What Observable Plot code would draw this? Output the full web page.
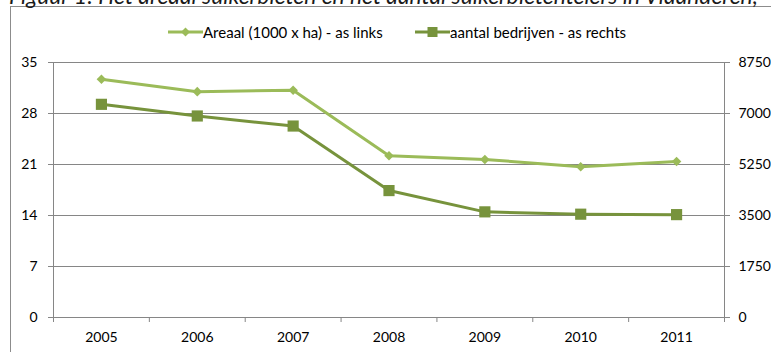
<!DOCTYPE html>
<html>
<head>
<meta charset="utf-8">
<script src="https://cdn.jsdelivr.net/npm/d3@7"></script>
<script src="https://cdn.jsdelivr.net/npm/@observablehq/plot@0.6"></script>
<style>
  html, body { margin: 0; padding: 0; background: #fff; overflow: hidden; }
  #wrap { position: relative; width: 771px; height: 352px; overflow: hidden; font-family: Lato, "Open Sans", sans-serif; }
  #title { position: absolute; left: 9px; top: -16px; font-style: italic; font-size: 22.8px; line-height: 22.8px; white-space: nowrap; color: #1a1a1a; }
  #frame { position: absolute; left: 10px; top: 6px; width: 820px; height: 420px; border: 1px solid #8c8c8c; box-sizing: border-box; pointer-events: none; }
  #chart { position: absolute; left: 0; top: 0; }
  .item { position: absolute; top: 23px; height: 18px; display: flex; align-items: center; font-size: 15px; line-height: 18px; color: #000; white-space: nowrap; }
  .item svg { display: block; }
</style>
</head>
<body>
<div id="wrap">
  <div id="chart"></div>
  <div id="frame"></div>
  <div id="title"></div>
  <div id="legend"></div>
</div>
<script>
// Suikerbieten in Vlaanderen: areaal (linker as) en aantal bedrijven (rechter as)
const years = ["2005", "2006", "2007", "2008", "2009", "2010", "2011"];
const areaal = [32.7, 31.0, 31.2, 22.2, 21.7, 20.7, 21.4];           // 1000 x ha
const bedrijven = [7315, 6915, 6570, 4355, 3625, 3545, 3530];        // aantal
const leftTicks = [0, 7, 14, 21, 28, 35];
const rightTicks = [0, 1750, 3500, 5250, 7000, 8750];
const seriesNames = ["Areaal (1000 x ha) - as links", "aantal bedrijven - as rechts"];
const titleText = "Figuur 1: Het areaal suikerbieten en het aantal suikerbietentelers in Vlaanderen,";

const colors = ["#9BBB59", "#77933C"];
const grey = "#868686";

// the right axis is a rescaled copy of the left one
const ratio = rightTicks[rightTicks.length - 1] / leftTicks[leftTicks.length - 1];
const rows = years.map((year, i) => ({ i, year, areaal: areaal[i], bedrijven: bedrijven[i] / ratio }));
const centers = years.map((_, i) => i);
const bounds = d3.range(years.length + 1).map(i => i - 0.5);

const chart = Plot.plot({
  width: 771,
  height: 352,
  marginLeft: 53,
  marginRight: 47,
  marginTop: 62,
  marginBottom: 35,
  style: { background: "transparent", fontFamily: "Lato, 'Open Sans', sans-serif", fontSize: "14px", color: "#000", overflow: "visible" },
  x: { type: "linear", domain: [bounds[0], bounds[bounds.length - 1]] },
  y: { domain: [leftTicks[0], leftTicks[leftTicks.length - 1]] },
  marks: [
    Plot.gridY(leftTicks.slice(1), { stroke: grey, strokeOpacity: 1 }),
    Plot.ruleY([leftTicks[0]], { stroke: grey }),
    Plot.ruleX([bounds[0], bounds[bounds.length - 1]], { stroke: grey }),
    Plot.axisY(leftTicks, { anchor: "left", tickSize: 5, tickPadding: 11, stroke: grey, fill: "#000", label: null }),
    Plot.axisY(leftTicks, { anchor: "right", tickSize: 5, tickPadding: 9, stroke: grey, fill: "#000", label: null,
      tickFormat: d => String(rightTicks[leftTicks.indexOf(d)]) }),
    Plot.axisX(bounds, { anchor: "bottom", tickSize: 5, stroke: grey, label: null, tickFormat: () => "" }),
    Plot.axisX(centers, { anchor: "bottom", tickSize: 0, tickPadding: 15, fill: "#000", label: null,
      tickFormat: i => years[i] }),
    Plot.line(rows, { x: "i", y: "bedrijven", stroke: colors[1], strokeWidth: 3 }),
    Plot.dot(rows, { x: "i", y: "bedrijven", symbol: "square", r: 6.3, fill: colors[1] }),
    Plot.line(rows, { x: "i", y: "areaal", stroke: colors[0], strokeWidth: 3 }),
    Plot.dot(rows, { x: "i", y: "areaal", symbol: "diamond2", r: 4.3, fill: colors[0] })
  ]
});
document.getElementById("chart").append(chart);

document.getElementById("title").textContent = titleText;

// legend: line sample with marker, followed by the series name
const legendPos = [168, 415];
const legendSymbols = ["diamond", "square"];
const legend = document.getElementById("legend");
seriesNames.forEach((name, k) => {
  const item = document.createElement("div");
  item.className = "item";
  item.style.left = legendPos[k] + "px";
  const w = 35, h = 18, cx = w / 2, cy = h / 2;
  const marker = legendSymbols[k] === "diamond"
    ? `<path d="M${cx} ${cy - 4.5}L${cx + 4.5} ${cy}L${cx} ${cy + 4.5}L${cx - 4.5} ${cy}Z" fill="${colors[k]}"/>`
    : `<rect x="${cx - 5}" y="${cy - 5}" width="10" height="10" fill="${colors[k]}"/>`;
  item.innerHTML = `<svg width="${w}" height="${h}"><line x1="0" x2="${w}" y1="${cy}" y2="${cy}" stroke="${colors[k]}" stroke-width="3"/>${marker}</svg><span>${name}</span>`;
  legend.append(item);
});
</script>
</body>
</html>
